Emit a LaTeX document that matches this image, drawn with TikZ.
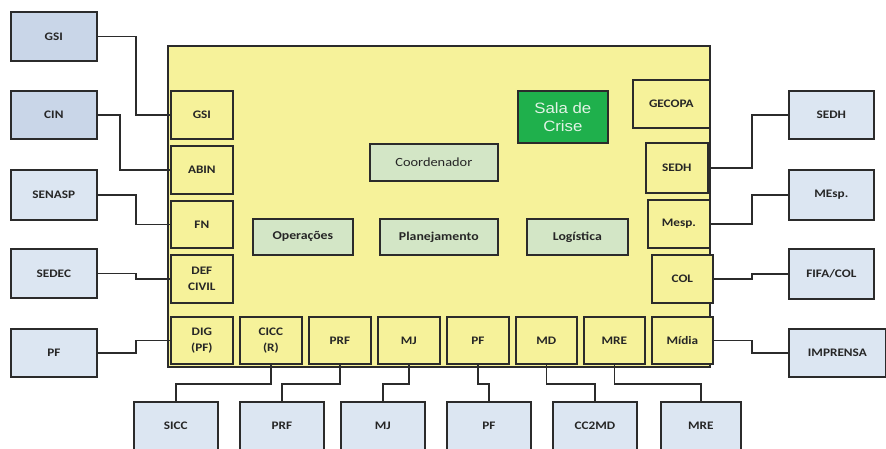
\documentclass[tikz,border=0pt]{standalone}
\usepackage{fontspec}
\newfontfamily\labf[FakeStretch=1.15]{Carlito}
\newfontfamily\salaf[FakeStretch=1.12]{Liberation Sans}
\definecolor{yel}{HTML}{F6F29A}
\definecolor{lgr}{HTML}{D3E6C6}
\definecolor{grn}{HTML}{1FB04C}
\definecolor{bll}{HTML}{DCE6F2}
\definecolor{bld}{HTML}{C9D6E8}
\definecolor{ln}{HTML}{2B2B2B}
\definecolor{tx}{HTML}{262626}
\definecolor{salatx}{HTML}{E2F3E6}
\newcommand\bx[7]{\node[#1, anchor=north west, minimum width={#5pt-#3pt}, minimum height={#6pt-#4pt}] (#2) at (#3,#4) {#7};}
\begin{document}
\begin{tikzpicture}[x=1pt,y=-1pt,
  base/.style={draw=ln, line width=1.7pt, inner sep=0pt, align=center, text=tx,
    font=\labf\bfseries\fontsize{11.5}{16.5}\selectfont},
  ybox/.style={base, fill=yel},
  gbox/.style={base, fill=lgr, font=\labf\bfseries\fontsize{12}{16}\selectfont},
  cbox/.style={base, fill=lgr, font=\labf\fontsize{12.5}{16}\selectfont},
  sbox/.style={base, fill=grn, text=salatx, font=\salaf\fontsize{15}{18}\selectfont},
  bbox/.style={base, fill=bll},
  dbox/.style={base, fill=bld},
  conn/.style={draw=ln, line width=1.6pt}]
\useasboundingbox (0,0) rectangle (886,448);
% main container
\bx{ybox}{main}{167}{45}{709}{366}{}
% central boxes
\bx{sbox}{sala}{517}{90}{607}{142}{Sala de\\Crise}
\bx{cbox}{coord}{369}{143}{497}{180}{Coordenador}
\bx{gbox}{oper}{252}{218}{352}{254}{Operações}
\bx{gbox}{plan}{379}{218}{497}{254}{Planejamento}
\bx{gbox}{logi}{526}{218}{627}{254}{Logística}
% inner left
\bx{ybox}{lgsi}{170}{90}{232}{138}{GSI}
\bx{ybox}{abin}{170}{145}{232}{193}{ABIN}
\bx{ybox}{fn}{170}{200}{232}{247}{FN}
\bx{ybox}{defc}{170}{254}{232}{302}{DEF\\CIVIL}
\bx{ybox}{dig}{170}{316}{232}{363}{DIG\\(PF)}
% inner bottom
\bx{ybox}{cicc}{239}{316}{301}{363}{CICC\\(R)}
\bx{ybox}{iprf}{308}{316}{370}{363}{PRF}
\bx{ybox}{imj}{377}{316}{439}{363}{MJ}
\bx{ybox}{ipf}{446}{316}{508}{363}{PF}
\bx{ybox}{imd}{515}{316}{576}{363}{MD}
\bx{ybox}{imre}{583}{316}{644}{363}{MRE}
\bx{ybox}{midia}{651}{316}{712}{363}{Mídia}
% inner right
\bx{ybox}{gecopa}{632}{79}{709}{127}{GECOPA}
\bx{ybox}{isedh}{645}{142}{707}{192}{SEDH}
\bx{ybox}{mesp}{647}{199}{709}{247}{Mesp.}
\bx{ybox}{col}{651}{254}{712}{302}{COL}
% outer left
\bx{dbox}{ogsi}{10}{11}{96}{60}{GSI}
\bx{dbox}{cin}{10}{90}{96}{138}{CIN}
\bx{bbox}{senasp}{10}{169}{96}{219}{SENASP}
\bx{bbox}{sedec}{10}{248}{96}{297}{SEDEC}
\bx{bbox}{opf}{10}{328}{96}{376}{PF}
% outer right
\bx{bbox}{osedh}{788}{90}{873}{138}{SEDH}
\bx{bbox}{omesp}{788}{169}{873}{219}{MEsp.}
\bx{bbox}{fifa}{788}{248}{873}{298}{FIFA/COL}
\bx{bbox}{impr}{788}{328}{885}{376}{IMPRENSA}
% outer bottom
\bx{bbox}{sicc}{133}{401}{217}{449}{SICC}
\bx{bbox}{oprf}{239}{401}{323}{449}{PRF}
\bx{bbox}{omj}{340}{401}{424}{449}{MJ}
\bx{bbox}{opf2}{446}{401}{530}{449}{PF}
\bx{bbox}{cc2md}{552}{401}{636}{449}{CC2MD}
\bx{bbox}{omre}{660}{401}{740}{449}{MRE}
% connectors left
\draw[conn] (ogsi.east) -- ++(38,0) |- (lgsi.west);
\draw[conn] (cin.east) -- ++(22,0) |- (abin.west);
\draw[conn] (senasp.east) -- ++(38,0) |- (fn.west);
\draw[conn] (sedec.east) -- ++(38,0) |- (defc.west);
\draw[conn] (opf.east) -- ++(38,0) |- (dig.west);
% connectors bottom
\draw[conn] (cicc.south) -- ++(0,19) -| (sicc.north);
\draw[conn] (iprf.south) -- ++(0,19) -| (oprf.north);
\draw[conn] (imj.south) -- ++(0,19) -| (omj.north);
\draw[conn] (ipf.south) -- ++(0,19) -| (opf2.north);
\draw[conn] (imd.south) -- ++(0,19) -| (cc2md.north);
\draw[conn] (imre.south) -- ++(0,19) -| (omre.north);
% connectors right
\draw[conn] (isedh.east) -- ++(43,0) |- (osedh.west);
\draw[conn] (mesp.east) -- ++(41,0) |- (omesp.west);
\draw[conn] (col.east) -- ++(38,0) |- (fifa.west);
\draw[conn] (midia.east) -- ++(38,0) |- (impr.west);
\end{tikzpicture}
\end{document}
